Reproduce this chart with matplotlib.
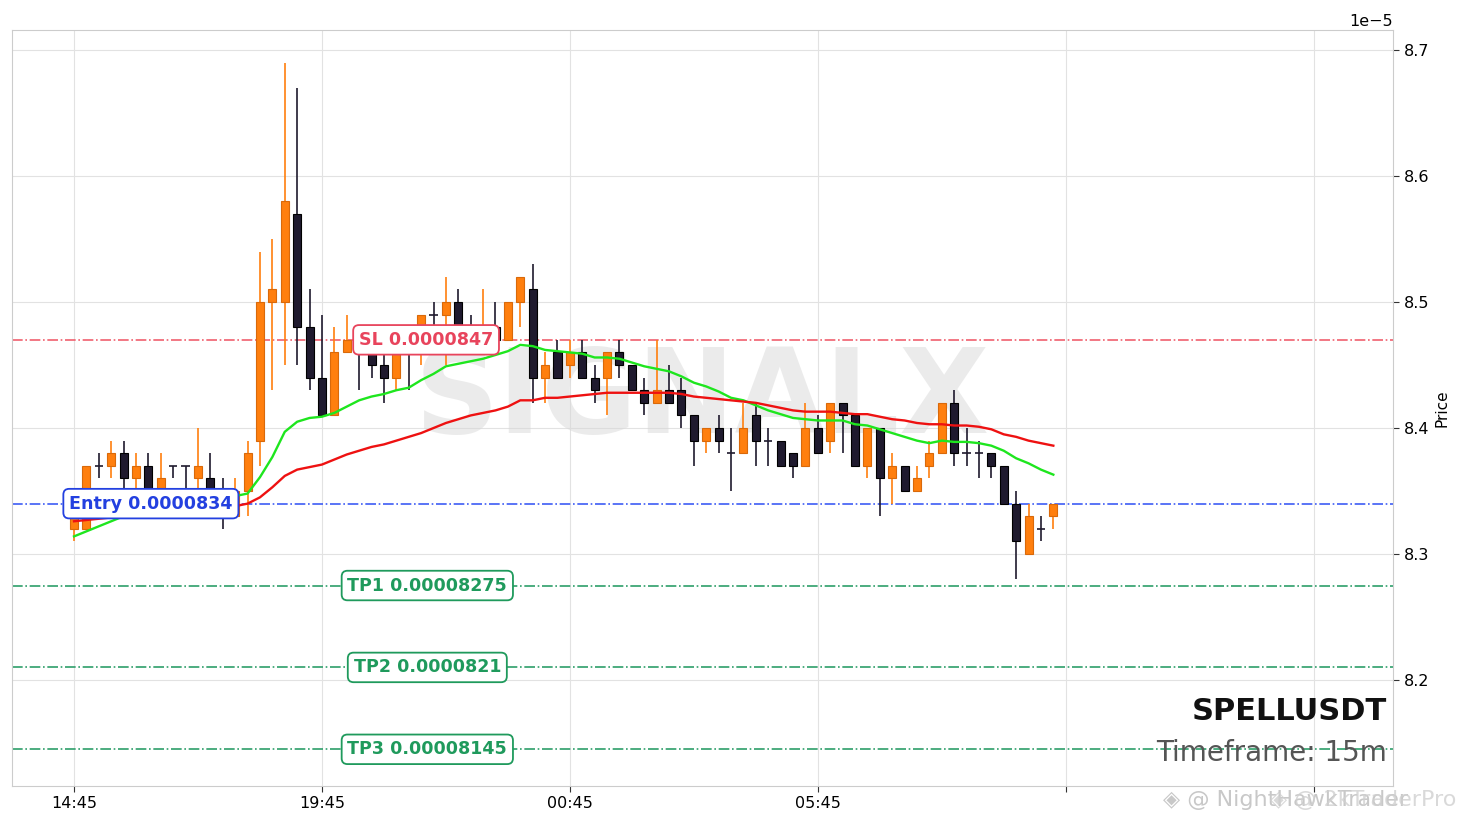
import matplotlib
matplotlib.use("Agg")
import matplotlib.pyplot as plt
import numpy as np

# Dane świec (cena w jednostkach 1e-5)
opens = [8.32, 8.32, 8.37, 8.37, 8.38, 8.36, 8.37, 8.34, 8.37, 8.37,
         8.36, 8.36, 8.35, 8.33, 8.35, 8.39, 8.50, 8.50, 8.57, 8.48,
         8.44, 8.41, 8.46, 8.47, 8.46, 8.45, 8.44, 8.47, 8.46, 8.49,
         8.49, 8.50, 8.48, 8.47, 8.48, 8.47, 8.50, 8.51, 8.44, 8.46,
         8.45, 8.46, 8.44, 8.44, 8.46, 8.45, 8.43, 8.42, 8.43, 8.43,
         8.41, 8.39, 8.40, 8.38, 8.38, 8.41, 8.39, 8.39, 8.38, 8.37,
         8.40, 8.39, 8.42, 8.41, 8.37, 8.40, 8.36, 8.37, 8.35, 8.37,
         8.38, 8.42, 8.38, 8.38, 8.38, 8.37, 8.34, 8.30, 8.32, 8.33]
highs = [8.33, 8.37, 8.38, 8.39, 8.39, 8.38, 8.38, 8.38, 8.37, 8.37,
         8.40, 8.38, 8.36, 8.36, 8.39, 8.54, 8.55, 8.69, 8.67, 8.51,
         8.49, 8.48, 8.49, 8.48, 8.47, 8.46, 8.47, 8.48, 8.49, 8.50,
         8.52, 8.51, 8.49, 8.51, 8.50, 8.50, 8.52, 8.53, 8.46, 8.47,
         8.47, 8.47, 8.45, 8.46, 8.47, 8.45, 8.44, 8.47, 8.45, 8.44,
         8.41, 8.40, 8.41, 8.40, 8.42, 8.42, 8.40, 8.39, 8.38, 8.42,
         8.41, 8.42, 8.42, 8.41, 8.40, 8.40, 8.38, 8.37, 8.37, 8.39,
         8.42, 8.43, 8.40, 8.39, 8.38, 8.37, 8.35, 8.34, 8.33, 8.34]
lows = [8.31, 8.32, 8.36, 8.36, 8.35, 8.35, 8.34, 8.33, 8.36, 8.35,
        8.35, 8.34, 8.32, 8.33, 8.33, 8.37, 8.43, 8.45, 8.45, 8.43,
        8.41, 8.41, 8.46, 8.43, 8.44, 8.42, 8.43, 8.43, 8.45, 8.48,
        8.45, 8.47, 8.46, 8.46, 8.46, 8.47, 8.48, 8.42, 8.42, 8.44,
        8.44, 8.44, 8.42, 8.41, 8.44, 8.43, 8.41, 8.42, 8.42, 8.40,
        8.37, 8.38, 8.38, 8.35, 8.38, 8.37, 8.37, 8.37, 8.36, 8.37,
        8.38, 8.38, 8.38, 8.37, 8.36, 8.33, 8.34, 8.35, 8.35, 8.36,
        8.38, 8.37, 8.37, 8.36, 8.36, 8.34, 8.28, 8.30, 8.31, 8.32]
closes = [8.33, 8.37, 8.37, 8.38, 8.36, 8.37, 8.35, 8.36, 8.37, 8.37,
          8.37, 8.35, 8.34, 8.35, 8.38, 8.50, 8.51, 8.58, 8.48, 8.44,
          8.41, 8.46, 8.47, 8.46, 8.45, 8.44, 8.46, 8.46, 8.49, 8.49,
          8.50, 8.48, 8.47, 8.48, 8.47, 8.50, 8.52, 8.44, 8.45, 8.44,
          8.46, 8.44, 8.43, 8.46, 8.45, 8.43, 8.42, 8.43, 8.42, 8.41,
          8.39, 8.40, 8.39, 8.38, 8.40, 8.39, 8.39, 8.37, 8.37, 8.40,
          8.38, 8.42, 8.41, 8.37, 8.40, 8.36, 8.37, 8.35, 8.36, 8.38,
          8.42, 8.38, 8.38, 8.38, 8.37, 8.34, 8.31, 8.33, 8.32, 8.34]

# Średnie kroczące
ema_fast = [8.314, 8.318, 8.322, 8.326, 8.330, 8.333, 8.335, 8.337, 8.339, 8.341,
            8.343, 8.344, 8.344, 8.346, 8.348, 8.361, 8.377, 8.397, 8.405, 8.408,
            8.409, 8.412, 8.417, 8.422, 8.425, 8.427, 8.430, 8.432, 8.438, 8.443,
            8.449, 8.451, 8.453, 8.455, 8.458, 8.461, 8.466, 8.465, 8.462, 8.461,
            8.460, 8.459, 8.456, 8.456, 8.455, 8.452, 8.449, 8.447, 8.445, 8.441,
            8.436, 8.433, 8.429, 8.424, 8.422, 8.418, 8.414, 8.411, 8.408, 8.407,
            8.406, 8.406, 8.406, 8.403, 8.402, 8.399, 8.396, 8.393, 8.390, 8.388,
            8.390, 8.389, 8.389, 8.388, 8.386, 8.382, 8.376, 8.372, 8.367, 8.363]
ema_slow = [8.326, 8.327, 8.328, 8.329, 8.330, 8.331, 8.332, 8.333, 8.334, 8.334,
            8.335, 8.336, 8.337, 8.338, 8.340, 8.345, 8.353, 8.362, 8.367, 8.369,
            8.371, 8.375, 8.379, 8.382, 8.385, 8.387, 8.390, 8.393, 8.396, 8.400,
            8.404, 8.407, 8.410, 8.412, 8.414, 8.417, 8.422, 8.422, 8.424, 8.424,
            8.425, 8.426, 8.427, 8.428, 8.428, 8.428, 8.428, 8.428, 8.428, 8.427,
            8.425, 8.424, 8.423, 8.422, 8.421, 8.420, 8.418, 8.416, 8.414, 8.413,
            8.413, 8.413, 8.412, 8.411, 8.411, 8.409, 8.407, 8.406, 8.404, 8.403,
            8.403, 8.402, 8.402, 8.401, 8.399, 8.395, 8.393, 8.390, 8.388, 8.386]

tick_labels = ["14:45", "19:45", "00:45", "05:45", "", ""]

# Poziomy sygnału
entry = 0.0000834
stop_loss = 0.0000847
take_profits = [0.00008275, 0.0000821, 0.00008145]
tp_names = ["TP1", "TP2", "TP3"]

symbol = "SPELLUSDT"
timeframe = "15m"

scale = 1e-5
o = np.array(opens) * scale
h = np.array(highs) * scale
l = np.array(lows) * scale
c = np.array(closes) * scale
x = np.arange(len(o))

fig = plt.figure(figsize=(14.68, 8.25), dpi=100)
ax = fig.add_axes([0.0082, 0.0473, 0.9407, 0.9163])

up_face, up_edge = "#ff7f0e", "#d9690a"
dn_face, dn_edge = "#1f1a2e", "#000000"

for i in x:
    up = c[i] > o[i]
    face = up_face if up else dn_face
    edge = up_edge if up else dn_edge
    wick = "#ff7f0e" if up else "#1f1a2e"
    ax.vlines(i, l[i], h[i], color=wick, linewidth=1.2, zorder=3)
    lo_b = min(o[i], c[i])
    hi_b = max(o[i], c[i])
    if hi_b - lo_b < 1e-12:
        ax.hlines(o[i], i - 0.33, i + 0.33, color=wick, linewidth=1.2, zorder=3)
    else:
        ax.bar(i, hi_b - lo_b, bottom=lo_b, width=0.65, color=face,
               edgecolor=edge, linewidth=0.8, zorder=4)

ax.plot(x, np.array(ema_fast) * scale, color="#1ee61e", linewidth=1.7, zorder=5)
ax.plot(x, np.array(ema_slow) * scale, color="#ee1111", linewidth=1.7, zorder=5)

# Linie poziomów
ax.axhline(stop_loss, color="#f0606e", linestyle="-.", linewidth=1.2, zorder=2)
ax.axhline(entry, color="#3d5cf5", linestyle="-.", linewidth=1.2, zorder=2)
for tp in take_profits:
    ax.axhline(tp, color="#2e9e6a", linestyle="-.", linewidth=1.2, zorder=2)

box = dict(boxstyle="round,pad=0.33", facecolor="white", linewidth=1.3)
ax.text(6.2, entry, f"Entry {entry:.7f}", color="#2340e0", fontsize=12.6,
        fontweight="bold", ha="center", va="center", zorder=7,
        bbox=dict(box, edgecolor="#2340e0"))
ax.text(28.4, stop_loss, f"SL {stop_loss:.7f}", color="#e8445c", fontsize=12.6,
        fontweight="bold", ha="center", va="center", zorder=7,
        bbox=dict(box, edgecolor="#e8445c"))
for name, tp in zip(tp_names, take_profits):
    ax.text(28.5, tp, f"{name} {tp:.8f}".rstrip("0"), color="#1f9a5c", fontsize=12.6,
            fontweight="bold", ha="center", va="center", zorder=7,
            bbox=dict(box, edgecolor="#1f9a5c"))

# Znak wodny
ax.text(0.5, 0.51, "SIGNALX", transform=ax.transAxes, fontsize=84,
        fontweight="bold", color="#d8d8d8", alpha=0.5, ha="center",
        va="center", zorder=1)

ax.text(0.9955, 0.099, symbol, transform=ax.transAxes, fontsize=22,
        fontweight="bold", color="#111111", ha="right", va="center", zorder=8)
ax.text(0.9955, 0.043, f"Timeframe: {timeframe}", transform=ax.transAxes,
        fontsize=20, color="#555555", ha="right", va="center", zorder=8)

ax.set_xlim(-5, 106.4)
ax.set_ylim(8.1159 * scale, 8.7159 * scale)
ax.set_xticks(np.arange(0, 101, 20))
ax.set_xticklabels(tick_labels)
ax.set_yticks(np.arange(8.2, 8.71, 0.1) * scale)

ax.yaxis.tick_right()
ax.yaxis.set_label_position("right")
ax.set_ylabel("Price", fontsize=11)
ax.tick_params(labelsize=11.5, length=4, color="#333333")
ax.grid(True, color="#e2e2e2", linewidth=0.8)
ax.set_axisbelow(True)
for sp in ax.spines.values():
    sp.set_color("#cccccc")
ax.yaxis.get_offset_text().set_fontsize(11.5)

fig.text(1163 / 1468, 0.03, "\u25c8 @ NightHawkTrader", fontsize=16,
         color="#c8c8c8", ha="left", va="center")
fig.text(1270 / 1468, 0.03, "\u25c8 @ 2kTraderPro", fontsize=16,
         color="#d0d0d0", alpha=0.8, ha="left", va="center")

fig.savefig("out.png", dpi=100)
